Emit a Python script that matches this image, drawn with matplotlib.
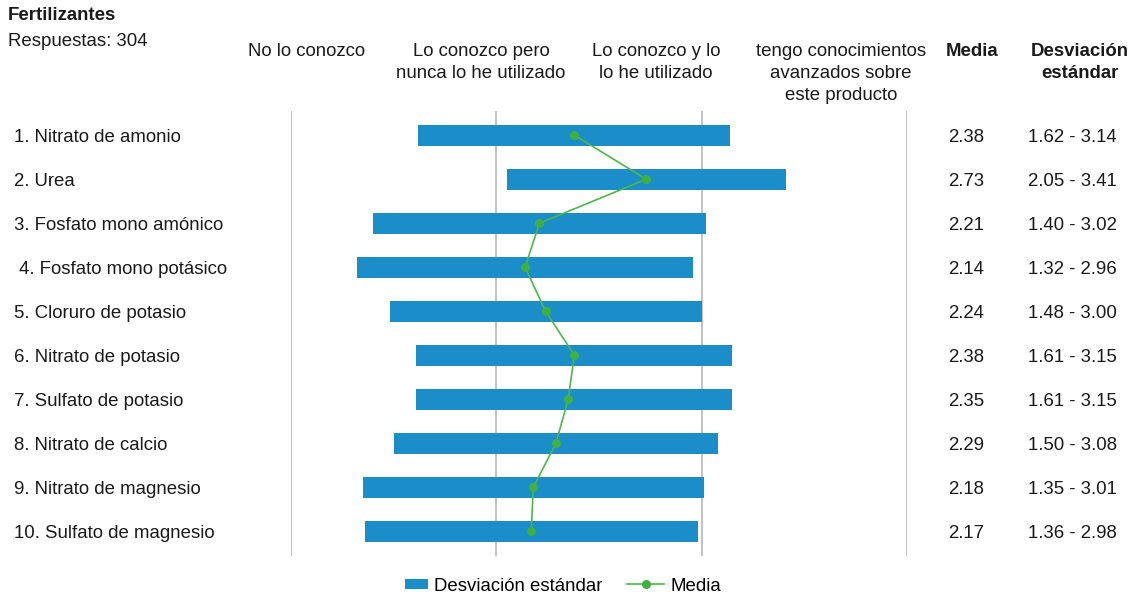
import numpy as np
import matplotlib.pyplot as plt
import matplotlib.patches as mpatches
import matplotlib.transforms as mtransforms
from matplotlib.legend_handler import HandlerPatch

plt.rcParams['font.family'] = ['Liberation Sans', 'DejaVu Sans']

productos = ['1. Nitrato de amonio', '2. Urea', '3. Fosfato mono amónico',
             ' 4. Fosfato mono potásico', '5. Cloruro de potasio',
             '6. Nitrato de potasio', '7. Sulfato de potasio',
             '8. Nitrato de calcio', '9. Nitrato de magnesio',
             '10. Sulfato de magnesio']
media = [2.38, 2.73, 2.21, 2.14, 2.24, 2.38, 2.35, 2.29, 2.18, 2.17]
desv_min = [1.62, 2.05, 1.40, 1.32, 1.48, 1.61, 1.61, 1.50, 1.35, 1.36]
desv_max = [3.14, 3.41, 3.02, 2.96, 3.00, 3.15, 3.15, 3.08, 3.01, 2.98]
categorias = ['No lo conozco', 'Lo conozco pero\nnunca lo he utilizado',
              'Lo conozco y lo\nlo he utilizado',
              'tengo conocimientos\navanzados sobre\neste producto']
escala = [1, 2, 3, 4]

AZUL = '#1b8dc9'
VERDE = '#4cb849'
TXT = '#1a1a1a'
FS = 13.4
W, H = 1135, 598


def fx(px):
    return px / W


def fy(py):
    return 1 - py / H


fig = plt.figure(figsize=(W / 100, H / 100), dpi=100)
ax = fig.add_axes([fx(291), fy(556), fx(907) - fx(291), fy(111) - fy(556)])

y = np.arange(len(productos))
lo = np.array(desv_min)
hi = np.array(desv_max)

barras = ax.barh(y, hi - lo, left=lo, height=0.477, color=AZUL, zorder=2,
                 label='Desviación estándar')
linea, = ax.plot(media, y, color=VERDE, lw=1.2, marker='o', ms=5.5,
                 mfc='#3fb043', mec='#3fb043', zorder=3, label='Media')

ax.set_xlim(escala[0], escala[-1])
ax.set_ylim(len(productos) - 1 + 0.56, -0.55)
for v in escala:
    ax.axvline(v, color='#b8b8b8', lw=1.2, zorder=1)
ax.set_xticks([])
ax.set_yticks([])
for s in ax.spines.values():
    s.set_visible(False)

# row texts: x in figure space, y follows the data rows
rows = mtransforms.blended_transform_factory(fig.transFigure, ax.transData)
for i, nombre in enumerate(productos):
    fig.text(fx(14), i, nombre, transform=rows, fontsize=FS,
             ha='left', va='center_baseline', color=TXT)
    fig.text(fx(966), i, f'{media[i]:.2f}', transform=rows, fontsize=FS,
             ha='center', va='center_baseline', color=TXT)
    fig.text(fx(1072), i, f'{desv_min[i]:.2f} - {desv_max[i]:.2f}',
             transform=rows, fontsize=FS, ha='center', va='center_baseline',
             color=TXT)

# headers
fig.text(fx(8), fy(16), 'Fertilizantes', fontsize=FS, fontweight='bold',
         ha='left', va='center', color=TXT)
fig.text(fx(8), fy(42), 'Respuestas: 304', fontsize=FS,
         ha='left', va='center', color=TXT)
for cx, txt in zip([307, 481, 656, 841], categorias):
    fig.text(fx(cx), fy(43.5), txt, fontsize=FS, ha='center', va='top',
             color=TXT, linespacing=1.35)
fig.text(fx(972), fy(43.5), 'Media', fontsize=FS, fontweight='bold',
         ha='center', va='top', color=TXT)
fig.text(fx(1080), fy(43.5), 'Desviación\nestándar', fontsize=FS,
         fontweight='bold', ha='center', va='top', color=TXT,
         linespacing=1.35)


def narrow_box(legend, orig_handle, xdescent, ydescent, width, height, fontsize):
    w = width * 0.6
    return mpatches.Rectangle((-xdescent + width - w, -ydescent + 1.1),
                              w, height - 2.2)


fig.legend([barras[0], linea], ['Desviación estándar', 'Media'], loc='center',
           bbox_to_anchor=(fx(556), fy(586)), ncol=2, frameon=False,
           fontsize=FS, handlelength=2.0, handletextpad=0.35,
           columnspacing=1.3,
           handler_map={barras[0]: HandlerPatch(patch_func=narrow_box)})

fig.savefig('out.png', dpi=100)
